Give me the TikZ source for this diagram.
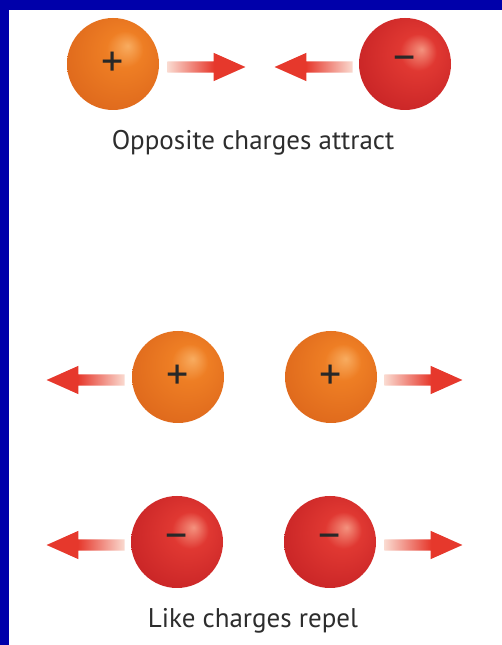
\documentclass[tikz,border=0pt]{standalone}
\usepackage{fontspec}
\setmainfont{PT Sans}
\usetikzlibrary{positioning, shapes.arrows}

\definecolor{frameblue}{RGB}{0,0,170}
\definecolor{orhi}{RGB}{248,172,96}
\definecolor{orbase}{RGB}{238,126,36}
\definecolor{ordark}{RGB}{222,104,28}
\definecolor{rdhi}{RGB}{244,146,126}
\definecolor{rdbase}{RGB}{224,56,50}
\definecolor{rddark}{RGB}{200,36,38}
\definecolor{fadepink}{RGB}{250,218,208}
\definecolor{forcered}{RGB}{230,56,44}
\definecolor{signgray}{RGB}{40,40,40}
\definecolor{textgray}{RGB}{45,45,45}

\pgfdeclareradialshading{orangeball}{\pgfpoint{8bp}{10bp}}{color(0bp)=(orhi); color(10bp)=(orbase); color(32bp)=(ordark); color(50bp)=(ordark)}
\pgfdeclareradialshading{redball}{\pgfpoint{9bp}{8bp}}{color(0bp)=(rdhi); color(10bp)=(rdbase); color(32bp)=(rddark); color(50bp)=(rddark)}
\pgfdeclarehorizontalshading{forcefade}{100bp}{color(0bp)=(fadepink); color(25bp)=(fadepink); color(55bp)=(forcered); color(100bp)=(forcered)}

\begin{document}
\begin{tikzpicture}[
  x=1pt, y=1pt,
  ball/.style={circle, minimum size=92pt, inner sep=0pt, text=signgray,
    font=\fontsize{44}{44}\selectfont},
  positive/.style={ball, shading=orangeball},
  negative/.style={ball, shading=redball},
  force/.style={single arrow, draw=none, inner sep=0pt, inner ysep=5.5pt,
    minimum height=78pt, single arrow head extend=8.5pt,
    single arrow tip angle=48, shading=forcefade, yshift=-3pt},
  forceleft/.style={force, shape border rotate=180, shading angle=180, anchor=tail},
  caption/.style={text=textgray, font=\fontsize{27}{27}\selectfont}
]
\useasboundingbox (0,0) rectangle (502,645);
\fill[white] (0,0) rectangle (502,645);
\fill[frameblue] (0,0) rectangle (9,645);
\fill[frameblue] (0,635) rectangle (502,645);

% opposite charges
\node[positive] (p0) at (113,581) {+};
\node[negative] (n0) at (405,581) {−};
\node[force, right=8pt of p0] (f0) {};
\node[forceleft, left=6pt of n0] (f1) {};
\node[caption] (lbl0) at (253,502) {Opposite charges attract};

% like charges
\node[positive] (p1) at (178,268) {+};
\node[positive] (p2) at (331,268) {+};
\node[forceleft, left=7pt of p1] (f2) {};
\node[force, right=7pt of p2] (f3) {};

\node[negative] (n1) at (177,103) {−};
\node[negative] (n2) at (330,103) {−};
\node[forceleft, left=6pt of n1] (f4) {};
\node[force, right=8pt of n2] (f5) {};
\node[caption] (lbl1) at (253,24) {Like charges repel};
\end{tikzpicture}
\end{document}
